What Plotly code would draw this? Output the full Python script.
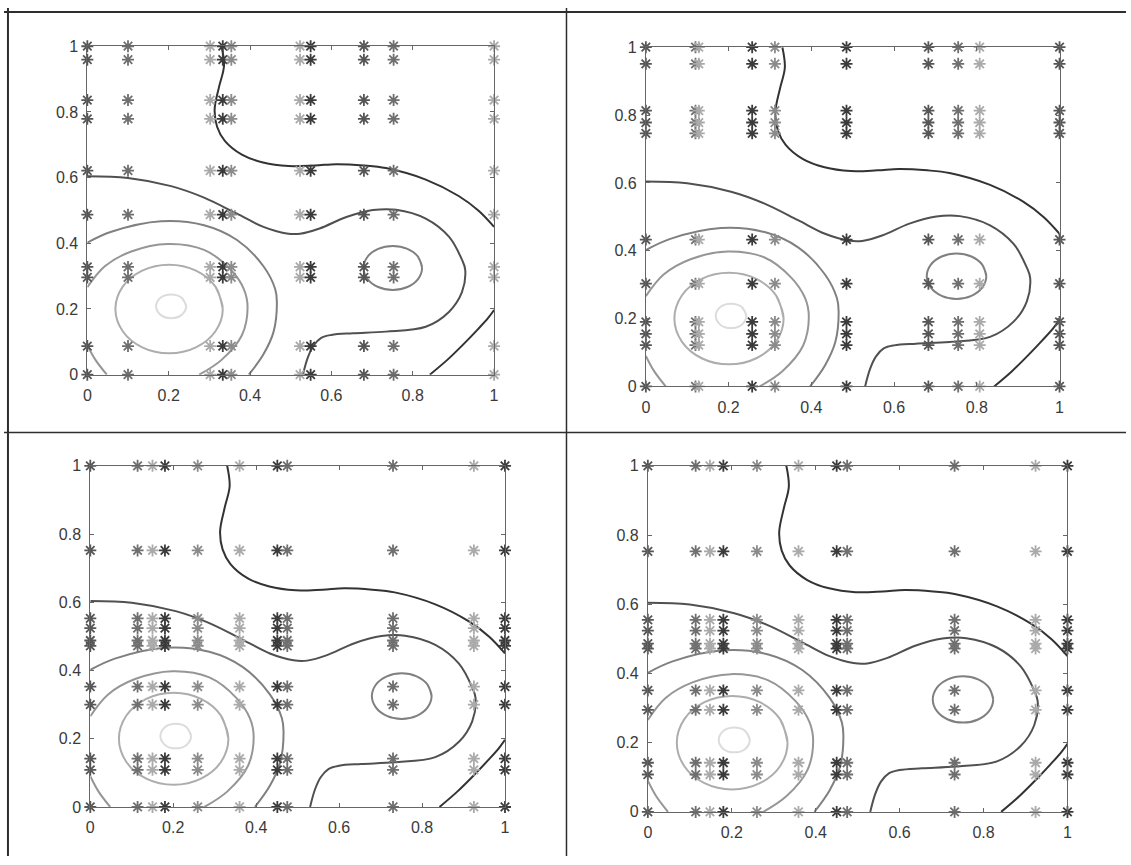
import plotly.graph_objects as go

# ---------------- data: sample points (columns x rows) per panel ----------------
p1_cols = [0.0, 0.100, 0.302, 0.333, 0.354, 0.523, 0.549, 0.680, 0.753, 1.0]
p1_rows = [0.0, 0.087, 0.296, 0.328, 0.487, 0.621, 0.779, 0.836, 0.959, 1.0]
p1_groups = ["b", "c", "e", "a", "d", "e", "a", "b", "c", "e"]

p2_cols = [0.0, 0.120, 0.128, 0.257, 0.312, 0.485, 0.683, 0.755, 0.807, 1.0]
p2_rows = [0.0, 0.122, 0.155, 0.190, 0.303, 0.433, 0.746, 0.778, 0.813, 0.951, 1.0]
p2_groups = ["b", "c", "e", "a", "d", "a", "b", "c", "e", "b"]

p3_cols = [0.0, 0.114, 0.150, 0.180, 0.259, 0.360, 0.451, 0.475, 0.730, 0.925, 1.0]
p3_rows = [0.0, 0.109, 0.142, 0.300, 0.353, 0.472, 0.488, 0.524, 0.553, 0.752, 1.0]
p3_groups = ["b", "c", "e", "a", "d", "e", "a", "c", "c", "e", "a"]

p4_cols = [0.0, 0.114, 0.148, 0.180, 0.260, 0.359, 0.450, 0.475, 0.731, 0.924, 1.0]
p4_rows = [0.0, 0.108, 0.142, 0.295, 0.351, 0.472, 0.486, 0.524, 0.555, 0.753, 1.0]
p4_groups = ["b", "c", "e", "a", "d", "e", "a", "c", "c", "e", "a"]

# ---------------- data: contour lines ----------------
# level 1 (darkest): upper boundary curve
c1a_x = [0.330, 0.336, 0.324, 0.313, 0.319, 0.338, 0.380, 0.432, 0.495, 0.560, 0.612, 0.680, 0.734, 0.832, 0.913, 0.962, 1.0]
c1a_y = [1.000, 0.940, 0.877, 0.808, 0.755, 0.712, 0.670, 0.646, 0.635, 0.637, 0.641, 0.637, 0.629, 0.594, 0.544, 0.499, 0.450]
# level 1: lower-right corner curve
c1b_x = [0.842, 0.885, 0.925, 0.960, 0.985, 1.0]
c1b_y = [0.000, 0.045, 0.093, 0.138, 0.172, 0.197]
# level 2: long curve
c2_x = [0.0, 0.100, 0.206, 0.287, 0.368, 0.433, 0.490, 0.523, 0.571, 0.637, 0.702, 0.759, 0.832, 0.889, 0.921, 0.929,
        0.921, 0.889, 0.832, 0.734, 0.653, 0.600, 0.575, 0.556, 0.542, 0.530]
c2_y = [0.604, 0.599, 0.574, 0.539, 0.490, 0.450, 0.430, 0.429, 0.445, 0.480, 0.501, 0.502, 0.475, 0.420, 0.350, 0.320,
        0.251, 0.191, 0.146, 0.131, 0.126, 0.121, 0.112, 0.088, 0.052, 0.000]
# level 3: outer ring around the main peak
c3a_x = [0.0, 0.059, 0.181, 0.287, 0.368, 0.433, 0.462, 0.466, 0.458, 0.433, 0.397]
c3a_y = [0.402, 0.435, 0.467, 0.455, 0.410, 0.330, 0.260, 0.221, 0.131, 0.062, 0.000]
# level 3: ring around the secondary peak
c3b_x = [0.823, 0.813, 0.787, 0.751, 0.715, 0.689, 0.679, 0.689, 0.715, 0.751, 0.787, 0.813]
c3b_y = [0.325, 0.359, 0.383, 0.392, 0.383, 0.359, 0.325, 0.291, 0.267, 0.258, 0.267, 0.291]
# level 4
c4a_x = [0.0, 0.043, 0.108, 0.198, 0.287, 0.352, 0.385, 0.394, 0.380, 0.330, 0.275]
c4a_y = [0.266, 0.330, 0.375, 0.398, 0.380, 0.320, 0.260, 0.205, 0.120, 0.045, 0.000]
c4b_x = [0.0, 0.020, 0.048]
c4b_y = [0.090, 0.045, 0.000]
# level 5
c5_x = [0.333, 0.315, 0.267, 0.201, 0.135, 0.087, 0.069, 0.087, 0.135, 0.201, 0.267, 0.315]
c5_y = [0.200, 0.268, 0.317, 0.335, 0.317, 0.268, 0.200, 0.132, 0.083, 0.065, 0.083, 0.132]
# level 6 (lightest)
c6_x = [0.243, 0.232, 0.206, 0.180, 0.169, 0.180, 0.206, 0.232]
c6_y = [0.208, 0.234, 0.244, 0.234, 0.208, 0.182, 0.172, 0.182]

tick_vals = [0, 0.2, 0.4, 0.6, 0.8, 1]
tick_text = ["0", "0.2", "0.4", "0.6", "0.8", "1"]

# ---------------- styles / layout ----------------
W, H = 1131, 865
shade = {"a": "#3b3b3b", "b": "#565656", "c": "#6f6f6f", "d": "#8b8b8b", "e": "#aaaaaa"}
level_color = {1: "#333333", 2: "#505050", 3: "#808080", 4: "#969696", 5: "#adadad", 6: "#dcdcdc"}

# pixel boxes of the four axes: left, right, top, bottom
boxes = [(84, 494, 39, 374), (647, 1064, 40, 386), (87, 505, 467, 815), (649, 1072, 467, 820)]

panels = [
    (p1_cols, p1_rows, p1_groups),
    (p2_cols, p2_rows, p2_groups),
    (p3_cols, p3_rows, p3_groups),
    (p4_cols, p4_rows, p4_groups),
]

curves = [
    (c1a_x, c1a_y, 1, False), (c1b_x, c1b_y, 1, False), (c2_x, c2_y, 2, False),
    (c3a_x, c3a_y, 3, False), (c3b_x, c3b_y, 3, True), (c4a_x, c4a_y, 4, False),
    (c4b_x, c4b_y, 4, False), (c5_x, c5_y, 5, True), (c6_x, c6_y, 6, True),
]

FONT = "Liberation Sans, Arial, sans-serif"
fig = go.Figure()
layout = dict(
    width=W, height=H, margin=dict(l=0, r=0, t=0, b=0),
    paper_bgcolor="white", plot_bgcolor="white", showlegend=False,
    font=dict(family=FONT, size=16, color="#3a3a3a"),
)

for i, ((cols, rows, groups), box) in enumerate(zip(panels, boxes)):
    n = i + 1
    xa = "x" if n == 1 else f"x{n}"
    ya = "y" if n == 1 else f"y{n}"
    # contour lines
    for cx, cy, lev, closed in curves:
        if closed:
            cx = list(cx) + [cx[0], cx[1]]
            cy = list(cy) + [cy[0], cy[1]]
        fig.add_trace(go.Scatter(
            x=cx, y=cy, mode="lines", xaxis=xa, yaxis=ya, hoverinfo="skip",
            line=dict(color=level_color[lev], width=2, shape="spline", smoothing=1.0),
        ))
    # sample points
    px, py, pc = [], [], []
    for cxv, g in zip(cols, groups):
        for ryv in rows:
            px.append(cxv)
            py.append(ryv)
            pc.append(shade[g])
    fig.add_trace(go.Scatter(
        x=px, y=py, mode="markers", xaxis=xa, yaxis=ya, cliponaxis=False,
        marker=dict(symbol="asterisk", size=10, color=pc, line=dict(color=pc, width=1.8)),
    ))

    l, r, t, b = box
    axis_common = dict(
        range=[0, 1], tickmode="array", tickvals=tick_vals, ticktext=tick_text,
        ticks="inside", ticklen=4, tickwidth=1, tickcolor="#666666",
        showline=True, linecolor="#666666", linewidth=1, mirror="ticks",
        showgrid=False, zeroline=False, fixedrange=True,
        tickfont=dict(family=FONT, size=16, color="#3a3a3a"),
    )
    layout["xaxis" if n == 1 else f"xaxis{n}"] = dict(
        axis_common, domain=[l / W, r / W], anchor=ya, ticklabelstandoff=6)
    layout["yaxis" if n == 1 else f"yaxis{n}"] = dict(
        axis_common, domain=[1 - b / H, 1 - t / H], anchor=xa, ticklabelstandoff=5)

# table-like cell borders
border = dict(color="#2e2e2e", width=2)
layout["shapes"] = [
    dict(type="line", xref="paper", yref="paper", x0=0, x1=1, y0=1 - 4 / H, y1=1 - 4 / H, line=border),
    dict(type="line", xref="paper", yref="paper", x0=4 / W, x1=4 / W, y0=0, y1=1, line=border),
    dict(type="line", xref="paper", yref="paper", x0=567 / W, x1=567 / W, y0=0, y1=1, line=dict(color="#2e2e2e", width=1.5)),
    dict(type="line", xref="paper", yref="paper", x0=0, x1=1, y0=1 - 433 / H, y1=1 - 433 / H, line=dict(color="#2e2e2e", width=1.5)),
]

fig.update_layout(**layout)
fig.write_html(
    "out.html",
    config={"displayModeBar": False},
    post_script="document.body.style.margin='0px';document.body.style.overflow='hidden';",
)
